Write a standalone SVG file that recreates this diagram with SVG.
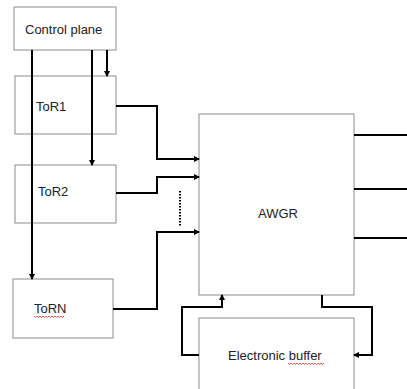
<svg xmlns="http://www.w3.org/2000/svg" width="407" height="389" viewBox="0 0 407 389">
<style>
.box{fill:#fff;stroke:#8c8c8c;stroke-width:1}
.lbl{font-family:"Liberation Sans",Arial,sans-serif;font-size:13px;fill:#222}
.ln{fill:none;stroke:#000;stroke-width:2}
.arr{marker-end:url(#ah)}
.sq{fill:none;stroke:#e03030;stroke-width:0.8}
</style>
<defs>
<marker id="ah" markerWidth="6" markerHeight="6" refX="5" refY="3" orient="auto" markerUnits="userSpaceOnUse">
<path d="M0,0 L6,3 L0,6 Z" fill="#000"/>
</marker>
</defs>
<rect width="407" height="389" fill="#fff"/>
<g id="control-plane"><rect class="box" x="14" y="7" width="102" height="43"/><text class="lbl" x="25" y="34">Control plane</text></g>
<g id="tor1"><rect class="box" x="15" y="76" width="101" height="58"/><text class="lbl" x="36" y="111">ToR1</text></g>
<g id="tor2"><rect class="box" x="15" y="165" width="101" height="58"/><text class="lbl" x="38" y="196">ToR2</text></g>
<g id="torn"><rect class="box" x="13" y="279" width="100" height="59"/><text class="lbl" x="34" y="313">ToRN</text><path class="sq" d="M34,316 l1.5,1.5 l1.5,-1.5 l1.5,1.5 l1.5,-1.5 l1.5,1.5 l1.5,-1.5 l1.5,1.5 l1.5,-1.5 l1.5,1.5 l1.5,-1.5 l1.5,1.5 l1.5,-1.5 l1.5,1.5 l1.5,-1.5 l1.5,1.5 l1.5,-1.5 l1.5,1.5 l1.5,-1.5 l1.5,1.5 l1.5,-1.5"/></g>
<g id="awgr"><rect class="box" x="199" y="114" width="155" height="181"/><text class="lbl" x="258" y="218">AWGR</text></g>
<g id="electronic-buffer"><rect class="box" x="199" y="318" width="155" height="80"/><text class="lbl" x="228" y="360">Electronic buffer</text><path class="sq" d="M288,363 l1.5,1.5 l1.5,-1.5 l1.5,1.5 l1.5,-1.5 l1.5,1.5 l1.5,-1.5 l1.5,1.5 l1.5,-1.5 l1.5,1.5 l1.5,-1.5 l1.5,1.5 l1.5,-1.5 l1.5,1.5 l1.5,-1.5 l1.5,1.5 l1.5,-1.5 l1.5,1.5 l1.5,-1.5 l1.5,1.5 l1.5,-1.5 l1.5,1.5 l1.5,-1.5 l1.5,1.5 l1.5,-1.5"/></g>
<g id="connectors">
<path class="ln arr" d="M107,50 V76"/>
<path class="ln arr" d="M92,50 V165"/>
<path class="ln arr" d="M32,50 V279"/>
<path class="ln arr" d="M116,106 H157 V159 H199"/>
<path class="ln arr" d="M116,193 H157 V177 H199"/>
<path class="ln arr" d="M113,309 H157 V232 H199"/>
<path d="M180,191 V226" stroke="#000" stroke-width="2" stroke-dasharray="1.5,1.5" fill="none"/>
<path class="ln" d="M354,135 H407 M354,189 H407 M354,238 H407"/>
<path class="ln arr" d="M199,355 H182 V307 H222 V295"/>
<path class="ln arr" d="M322,295 V307 H372 V355 H354"/>
</g>
</svg>
